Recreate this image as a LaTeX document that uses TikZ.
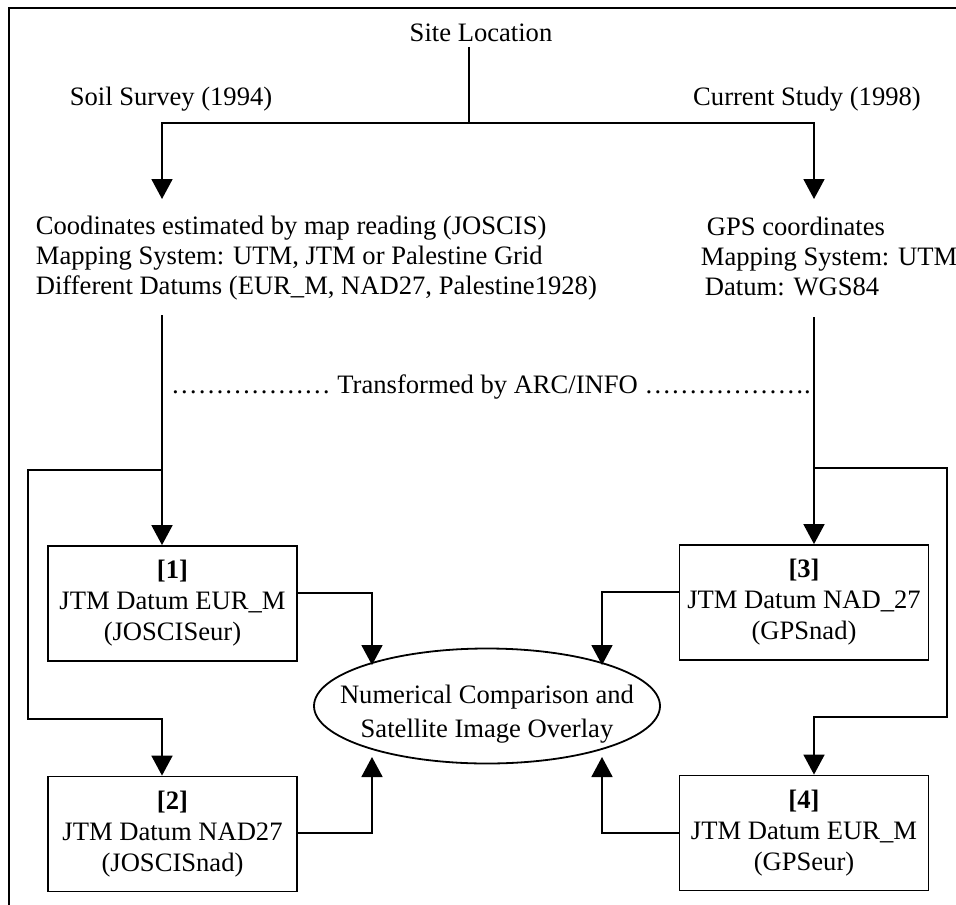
\documentclass[tikz,border=0pt]{standalone}
\usepackage{fontspec}
\setmainfont{Liberation Serif}
\usetikzlibrary{arrows.meta,shapes.geometric}
\begin{document}
\begin{tikzpicture}[x=1pt,y=-1pt,line width=1.8pt,
  txt/.style={inner sep=0pt,font=\fontsize{26.6}{30}\selectfont},
  boxnode/.style={draw,inner sep=0pt,minimum width=249pt,minimum height=115pt,align=center,font=\fontsize{26.6}{31}\selectfont},
  arr/.style={-{Triangle[length=20pt,width=21pt]}},
  link/.style={line width=1.8pt}]
\useasboundingbox (0,0) rectangle (956,905);
% frame
\draw[line width=2pt] (9,905) -- (9,8) -- (956,8);
% texts
\node[txt] (site) at (481,33) {Site Location};
\node[txt] (soil) at (171,99) {Soil Survey (1994)};
\node[txt] (curr) at (807,99) {Current Study (1998)};
\node[txt,anchor=west,align=left] (lblock) at (35,258) {Coodinates estimated by map reading (JOSCIS)\\Mapping System: UTM, JTM or Palestine Grid\\Different Datums (EUR\_M, NAD27, Palestine1928)};
\node[txt,anchor=west,align=left] (rblock) at (700,256) {\hspace*{6pt}GPS coordinates\\Mapping System: UTM\\\hspace*{4pt}Datum: WGS84};
\node[txt] (trans) at (491,387) {\dots\dots\dots\dots\dots\dots{} Transformed by ARC/INFO \dots\dots\dots\dots\dots\dots.};
% boxes
\node[boxnode] (b1) at (172.5,603.5) {\textbf{[1]}\\JTM Datum EUR\_M\\(JOSCISeur)};
\node[boxnode] (b2) at (172.5,834) {\textbf{[2]}\\JTM Datum NAD27\\(JOSCISnad)};
\node[boxnode] (b3) at (804,602.5) {\textbf{[3]}\\JTM Datum NAD\_27\\(GPSnad)};
\node[boxnode] (b4) at (804,833) {\textbf{[4]}\\JTM Datum EUR\_M\\(GPSeur)};
\node[draw,ellipse,inner sep=0pt,minimum width=346pt,minimum height=115pt,
  label={[txt,align=center,font=\fontsize{26.6}{34}\selectfont,yshift=-8pt]center:Numerical Comparison and\\Satellite Image Overlay}] (ell) at (487,706) {};
% coordinates
\coordinate (split) at (469,123);
\coordinate (lt) at (162,123);
\coordinate (rt) at (814,123);
\coordinate (ltip) at (162,199);
\coordinate (rtip) at (814,199);
\coordinate (ls) at (162,315);
\coordinate (rs) at (814,317);
\coordinate (lj) at (162,470);
\coordinate (rj) at (814,468);
\coordinate (e1) at (372,665);
\coordinate (e2) at (372,757);
\coordinate (e3) at (602,665);
\coordinate (e4) at (602,757);
% top tree
\draw[link] (split |- site.south) ++(0,4) -- (split);
\draw[link,arr] (split) -- (lt) -- (ltip);
\draw[link,arr] (split) -- (rt) -- (rtip);
% down to boxes 1 and 3
\draw[link,arr] (ls) -- (ls |- b1.north);
\draw[link,arr] (rs) -- (rs |- b3.north);
% loops to boxes 2 and 4
\draw[link,arr] (lj) -- (28,470) -- (28,719) -- (162,719) -- (lj |- b2.north);
\draw[link,arr] (rj) -- (947,468) -- (947,717) -- (814,717) -- (rj |- b4.north);
% boxes to ellipse
\draw[link,arr] (b1.east |- 0,593) -- (372,593) -- (e1);
\draw[link,arr] (b3.west |- 0,592) -- (602,592) -- (e3);
\draw[link,arr] (b2.east |- 0,833) -- (372,833) -- (e2);
\draw[link,arr] (b4.west |- 0,833) -- (602,833) -- (e4);
\end{tikzpicture}
\end{document}
